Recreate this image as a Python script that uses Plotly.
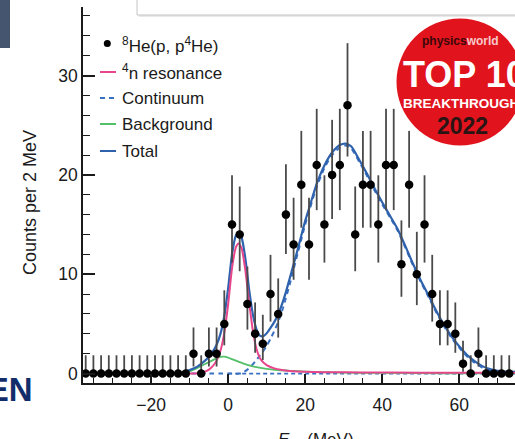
import plotly.graph_objects as go

# ---------------- data ----------------
E_BINS = [-37, -35, -33, -31, -29, -27, -25, -23, -21, -19, -17, -15, -13, -11,
          -9, -7, -5, -3, -1, 1, 3, 5, 7, 9, 11, 13, 15, 17, 19, 21, 23, 25, 27,
          29, 31, 33, 35, 37, 39, 41, 43, 45, 47, 49, 51, 53, 55, 57, 59, 61,
          63, 65, 67, 69, 71, 73]
COUNTS = [0, 0, 0, 0, 0, 0, 0, 0, 0, 0, 0, 0, 0, 0,
          2, 0, 2, 2, 5, 15, 14, 7, 4, 3, 8, 6, 16, 13, 19, 13, 21, 15, 20,
          21, 27, 14, 19, 19, 15, 21, 21, 11, 19, 10, 15, 8, 5, 5, 4, 1,
          0, 2, 0, 0, 0, 0]
# asymmetric (Poisson) error bar lengths, per count value, as drawn
ERR_UP = {0: 1.84, 1: 2.30, 2: 2.64, 3: 2.92, 4: 3.16, 5: 3.38, 6: 3.58, 7: 3.77,
          8: 3.95, 10: 4.27, 11: 4.42, 13: 4.70, 14: 4.83, 15: 4.96, 16: 5.08,
          19: 5.43, 20: 5.54, 21: 5.65, 27: 6.26}
ERR_DN = {0: 0.0, 1: 0.83, 2: 1.29, 3: 1.63, 4: 1.91, 5: 2.16, 6: 2.38, 7: 2.58,
          8: 2.77, 10: 3.11, 11: 3.27, 13: 3.56, 14: 3.70, 15: 3.83, 16: 3.96,
          19: 4.32, 20: 4.44, 21: 4.55, 27: 5.15}

RES_E = [-12, -9, -8, -7, -6, -5, -4, -3, -2, -1, 0, 1, 2, 2.7, 3.5, 4.5, 5.5,
         6.5, 7.5, 8.5, 10, 12, 14, 16, 20, 25, 35, 50, 74.5]
RES_Y = [0, 0, 0.03, 0.08, 0.2, 0.4, 0.75, 1.3, 2.3, 4.1, 7.0, 10.6, 12.7, 13.1,
         12.6, 10.3, 7.0, 4.1, 2.3, 1.4, 0.85, 0.52, 0.36, 0.27, 0.18, 0.14,
         0.11, 0.09, 0.08]

BKG_E = [-14, -12, -11, -10, -9, -8, -7, -6, -5, -4, -3, -2, -1, 0, 1, 2, 3, 4,
         5, 7, 10, 13, 16, 20, 25, 30, 40, 55, 74.5]
BKG_Y = [0, 0.03, 0.1, 0.22, 0.38, 0.57, 0.77, 0.96, 1.15, 1.35, 1.53, 1.68,
         1.7, 1.6, 1.45, 1.3, 1.15, 1.0, 0.88, 0.68, 0.48, 0.36, 0.28, 0.2,
         0.14, 0.1, 0.06, 0.03, 0.02]

CONT_E = [-37.7, 0, 3, 4, 5, 6, 7, 8, 9, 10, 11, 12, 13, 14, 15, 16, 17, 18, 19,
          20, 21, 22, 23, 25, 27, 29, 30.5, 32, 34, 36, 38, 40, 42, 44, 46, 48,
          50, 52, 54, 56, 58, 60, 62, 64, 66, 68, 70, 72, 74.5]
CONT_Y = [0, 0, 0, 0.15, 0.4, 0.75, 1.2, 1.7, 2.2, 2.8, 3.5, 4.3, 5.2, 6.3, 7.6,
          9.0, 10.5, 12.0, 13.5, 15.0, 16.3, 17.6, 18.8, 20.7, 22.0, 22.75,
          22.95, 22.65, 21.35, 19.95, 18.45, 17.05, 15.75, 14.4, 12.7, 10.9,
          9.25, 7.75, 6.2, 4.8, 3.6, 2.6, 1.75, 1.1, 0.6, 0.3, 0.12, 0.04, 0.0]
CONT_BASE_E = [0, 74.5]
CONT_BASE_Y = [0, 0]

TOT_E = [-37.7, -16, -14, -12, -10, -8, -6, -5, -4, -3, -2, -1, 0, 1, 2, 2.7,
         3.5, 4.5, 5.5, 6.5, 7.5, 8.3, 9.3, 10.3, 11, 12, 13, 14, 15, 16, 17,
         18, 19, 20, 21, 22, 23, 25, 27, 29, 30.5, 32, 34, 36, 38, 40, 42, 44,
         46, 48, 50, 52, 54, 56, 58, 60, 62, 64, 66, 68, 70, 72, 74.5]
TOT_Y = [0, 0, 0.03, 0.12, 0.35, 0.7, 1.3, 1.7, 2.2, 2.9, 4.0, 5.8, 8.6, 12.0,
         13.9, 14.15, 13.7, 11.5, 8.3, 5.8, 4.3, 3.8, 3.8, 4.2, 4.6, 5.2, 6.0,
         7.0, 8.2, 9.6, 11.0, 12.4, 13.9, 15.35, 16.6, 17.9, 19.1, 20.95,
         22.25, 23.0, 23.15, 22.85, 21.55, 20.15, 18.65, 17.25, 15.9, 14.55,
         12.85, 11.05, 9.4, 7.9, 6.35, 4.95, 3.75, 2.75, 1.9, 1.25, 0.75, 0.45,
         0.27, 0.2, 0.17]

X_TICKS = [-20, 0, 20, 40, 60]
Y_TICKS = [0, 10, 20, 30]

LEGEND = ["<sup>8</sup>He(p, p<sup>4</sup>He)", "<sup>4</sup>n resonance",
          "Continuum", "Background", "Total"]

# ---------------- styling ----------------
PINK = "#e8468c"
BLUE = "#2f62ad"
BLUE_D = "#3a70c2"
GREEN = "#55c06a"
FONT = "Liberation Sans, Arial, Helvetica, sans-serif"

W, H = 515, 439
L, R, T, B = 83, 0, 7, 56
PW, PH = W - L - R, H - T - B


def px(x):
    return (x - L) / PW


def py(y):
    return (H - B - y) / PH


fig = go.Figure()

fig.add_trace(go.Scatter(x=CONT_BASE_E, y=CONT_BASE_Y, mode="lines",
                         line=dict(color=BLUE_D, width=1.8, dash="4px,3px"),
                         showlegend=False, hoverinfo="skip"))
fig.add_trace(go.Scatter(x=CONT_E, y=CONT_Y, mode="lines", name="Continuum",
                         line=dict(color=BLUE_D, width=2, dash="5px,4px",
                                   shape="spline", smoothing=0.6),
                         showlegend=False))
fig.add_trace(go.Scatter(x=BKG_E, y=BKG_Y, mode="lines", name="Background",
                         line=dict(color=GREEN, width=1.8, shape="spline",
                                   smoothing=0.6),
                         showlegend=False))
fig.add_trace(go.Scatter(x=TOT_E, y=TOT_Y, mode="lines", name="Total",
                         line=dict(color=BLUE, width=2.2, shape="spline",
                                   smoothing=0.6),
                         showlegend=False))
fig.add_trace(go.Scatter(x=RES_E, y=RES_Y, mode="lines", name="4n resonance",
                         line=dict(color=PINK, width=2, shape="spline",
                                   smoothing=0.6),
                         showlegend=False))
fig.add_trace(go.Scatter(
    x=E_BINS, y=COUNTS, mode="markers", name="8He(p, p4He)",
    marker=dict(color="black", size=8.5),
    error_y=dict(type="data", symmetric=False,
                 array=[ERR_UP[c] for c in COUNTS],
                 arrayminus=[ERR_DN[c] for c in COUNTS],
                 color="#4a4a4a", thickness=1.8, width=0),
    showlegend=False))

axis_common = dict(showgrid=False, zeroline=False, showline=True,
                   linecolor="#1a1a1a", linewidth=1.5, ticks="inside",
                   tickcolor="#1a1a1a", tickwidth=1.5,
                   tickfont=dict(family=FONT, size=17.5, color="#1a1a1a"))

fig.update_xaxes(range=[-37.7, 74.5], tickvals=X_TICKS, ticklen=9,
                 ticklabelstandoff=5,
                 minor=dict(dtick=5, tick0=0, ticklen=5, tickwidth=1.3,
                            tickcolor="#1a1a1a", ticks="inside"),
                 **axis_common)
fig.update_yaxes(range=[-0.95, 36.9], tickvals=Y_TICKS, ticklen=12,
                 minor=dict(dtick=2, tick0=0, ticklen=7, tickwidth=1.3,
                            tickcolor="#1a1a1a", ticks="inside"),
                 **axis_common)

shapes = []
annotations = []

# manual legend
leg_y = [44, 72, 98, 124, 151]
shapes.append(dict(type="circle", xref="paper", yref="paper",
                   x0=px(103.8), x1=px(110.8), y0=py(40), y1=py(47),
                   fillcolor="black", line=dict(width=0)))
line_styles = [None, (PINK, "solid"), (BLUE_D, "5px,4px"), (GREEN, "solid"),
               (BLUE, "solid")]
for i, st in enumerate(line_styles):
    if st is None:
        continue
    shapes.append(dict(type="line", xref="paper", yref="paper",
                       x0=px(100), x1=px(116), y0=py(leg_y[i]), y1=py(leg_y[i]),
                       line=dict(color=st[0], width=2, dash=st[1])))
for i, txt in enumerate(LEGEND):
    annotations.append(dict(text=txt, xref="paper", yref="paper", x=px(120),
                            y=py(leg_y[i] + (1 if i == 0 else 0)),
                            xanchor="left", yanchor="middle", showarrow=False,
                            font=dict(family=FONT, size=17, color="#1a1a1a")))

# axis titles
annotations.append(dict(text="Counts per 2 MeV", xref="paper", yref="paper",
                        x=px(30), y=py(203), textangle=-90, showarrow=False,
                        xanchor="center", yanchor="middle",
                        font=dict(family=FONT, size=18, color="#1a1a1a")))
annotations.append(dict(text="<i>E</i><sub>4n</sub> (MeV)", xref="paper",
                        yref="paper", x=px(276), y=py(428), xanchor="left",
                        yanchor="top", showarrow=False,
                        font=dict(family=FONT, size=17, color="#1a1a1a")))

# page decorations around the chart
shapes.append(dict(type="rect", xref="paper", yref="paper", x0=px(-2), x1=px(10),
                   y0=py(48), y1=py(-2), fillcolor="#46556f", line=dict(width=0)))
shapes.append(dict(type="rect", xref="paper", yref="paper", x0=px(139), x1=px(530),
                   y0=py(17), y1=py(-5), fillcolor="#e9e9e9", line=dict(width=0)))
shapes.append(dict(type="rect", xref="paper", yref="paper", x0=px(137), x1=px(530),
                   y0=py(15), y1=py(-5), fillcolor="white",
                   line=dict(color="#c4c4c4", width=1)))
annotations.append(dict(text="<b>RIKEN</b>", xref="paper", yref="paper",
                        x=px(35), y=py(389), xanchor="right", yanchor="middle",
                        showarrow=False,
                        font=dict(family=FONT, size=33, color="#132d6b")))

# badge
shapes.append(dict(type="circle", xref="paper", yref="paper", layer="above",
                   x0=px(396.5), x1=px(523.5), y0=py(145.5), y1=py(18.5),
                   fillcolor="#e1141e", line=dict(width=0)))
annotations.append(dict(
    text="<b><span style='color:#3a0808'>physics</span>"
         "<span style='color:#f7c9c9'>world</span></b>",
    xref="paper", yref="paper", x=px(460), y=py(41), xanchor="center",
    yanchor="middle", showarrow=False,
    font=dict(family=FONT, size=12)))
annotations.append(dict(text="<b>TOP 10</b>", xref="paper", yref="paper",
                        x=px(464), y=py(74), xanchor="center", yanchor="middle",
                        showarrow=False,
                        font=dict(family=FONT, size=36, color="white")))
annotations.append(dict(text="<b>BREAKTHROUGH</b>", xref="paper", yref="paper",
                        x=px(461), y=py(103), xanchor="center", yanchor="middle",
                        showarrow=False,
                        font=dict(family=FONT, size=13.5, color="white")))
annotations.append(dict(text="<b>2022</b>", xref="paper", yref="paper",
                        x=px(462), y=py(126), xanchor="center", yanchor="middle",
                        showarrow=False,
                        font=dict(family=FONT, size=23, color="#2a1414")))

fig.update_layout(width=W, height=H, margin=dict(l=L, r=R, t=T, b=B),
                  paper_bgcolor="white", plot_bgcolor="white",
                  showlegend=False, shapes=shapes, annotations=annotations,
                  font=dict(family=FONT))

fig.write_html("out.html", config={"displayModeBar": False},
               post_script="document.body.style.margin='0px';"
                           "document.body.style.overflow='hidden';")
